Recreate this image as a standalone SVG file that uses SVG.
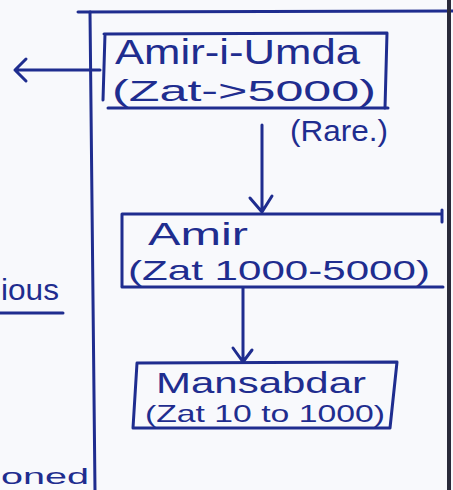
<svg xmlns="http://www.w3.org/2000/svg" width="453" height="490" viewBox="0 0 453 490">
<style>
.ink{fill:none;stroke:#1f2d8f;stroke-width:3;stroke-linecap:round;stroke-linejoin:round}
.t{fill:#1f2d8f;font-family:"Liberation Sans","DejaVu Sans",sans-serif}
</style>
<rect width="453" height="490" fill="#f8f9fc"/>
<g id="frame">
<path class="ink" d="M78 12 L453 11"/>
<path class="ink" d="M90 12 L95 490"/>
<path d="M449 0 L449 490" stroke="#2a2a3a" stroke-width="4"/>
</g>
<g id="side-text">
<text class="t" x="1" y="300" font-size="30" textLength="58" lengthAdjust="spacingAndGlyphs">ious</text>
<path class="ink" d="M0 313 L63 313"/>
<text class="t" x="1" y="484" font-size="22" textLength="88" lengthAdjust="spacingAndGlyphs">oned</text>
</g>
<g id="connectors">
<path class="ink" d="M100 70 L15 70 M26 59 L15 70 L26 81"/>
<path class="ink" d="M262 125 L262 212 M250 198 L262 212 L272 196"/>
<path class="ink" d="M243 288 L243 362 M233 348 L243 362 L252 350"/>
</g>
<g id="amir-i-umda">
<path class="ink" d="M104 34 L387 33 L385 108 M105 34 L103 100"/>
<path class="ink" d="M108 108 L388 108"/>
<text class="t" x="115" y="64" font-size="35" textLength="245" lengthAdjust="spacingAndGlyphs">Amir-i-Umda</text>
<text class="t" x="112" y="101" font-size="30" textLength="264" lengthAdjust="spacingAndGlyphs">(Zat-&gt;5000)</text>
<text class="t" x="290" y="141" font-size="30" textLength="98" lengthAdjust="spacingAndGlyphs">(Rare.)</text>
</g>
<g id="amir">
<path class="ink" d="M122 286 L122 214 L442 214 M442 210 L442 222"/>
<path class="ink" d="M122 287 L443 287"/>
<text class="t" x="148" y="245" font-size="32" textLength="100" lengthAdjust="spacingAndGlyphs">Amir</text>
<text class="t" x="128" y="280" font-size="28" textLength="302" lengthAdjust="spacingAndGlyphs">(Zat 1000-5000)</text>
</g>
<g id="mansabdar">
<path class="ink" d="M137 363 L397 362 L390 428 L133 428 Z"/>
<text class="t" x="156" y="393" font-size="30" textLength="210" lengthAdjust="spacingAndGlyphs">Mansabdar</text>
<text class="t" x="145" y="422" font-size="24" textLength="240" lengthAdjust="spacingAndGlyphs">(Zat 10 to 1000)</text>
</g>
</svg>
